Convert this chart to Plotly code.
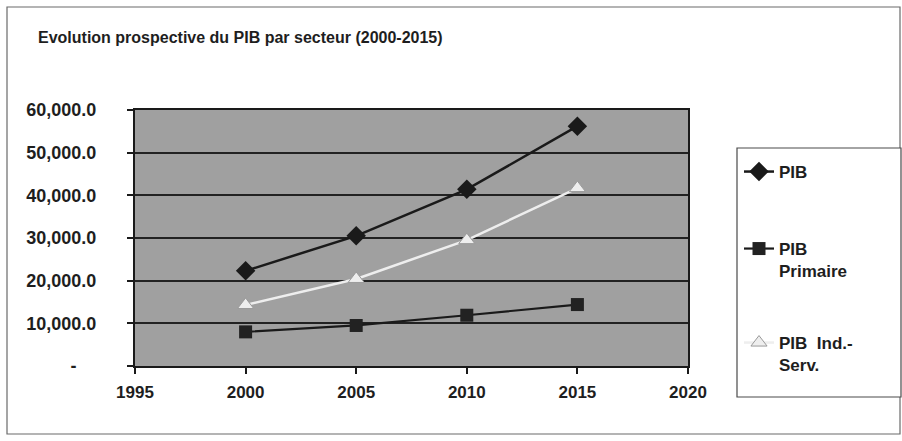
import plotly.graph_objects as go

# Years and GDP projections by sector
years = [2000, 2005, 2010, 2015]
pib_total = [22300, 30500, 41400, 56200]
pib_primaire = [8000, 9500, 11900, 14400]
pib_ind_serv = [14300, 20400, 29500, 41700]

series_names = ["PIB", "PIB<br>Primaire", "PIB  Ind.-<br>Serv."]

y_tickvals = [0, 10000, 20000, 30000, 40000, 50000, 60000]
y_ticktext = ["-\u00a0\u00a0\u00a0\u00a0", "10,000.0", "20,000.0", "30,000.0",
              "40,000.0", "50,000.0", "60,000.0"]
x_tickvals = [1995, 2000, 2005, 2010, 2015, 2020]

title_text = "Evolution prospective du PIB par secteur (2000-2015)"

# Page geometry (pixels)
W, H = 902, 441
M_L, M_R, M_T, M_B = 135, 214, 110, 75
PW = W - M_L - M_R
PH = H - M_T - M_B


def px_x(x):
    return (x - M_L) / PW


def px_y(y):
    return (H - M_B - y) / PH


FONT = "Liberation Sans, Arial, sans-serif"
INK = "#1e1e1e"

fig = go.Figure()

fig.add_trace(go.Scatter(
    x=years, y=pib_total, name=series_names[0], mode="lines+markers",
    line=dict(color="#1a1a1a", width=2.5),
    marker=dict(symbol="diamond", size=15, color="#1a1a1a"),
    legend="legend",
))
fig.add_trace(go.Scatter(
    x=years, y=pib_primaire, name=series_names[1], mode="lines+markers",
    line=dict(color="#1a1a1a", width=2.2),
    marker=dict(symbol="square", size=13, color="#222222"),
    legend="legend2",
))
fig.add_trace(go.Scatter(
    x=years, y=pib_ind_serv, name=series_names[2], mode="lines+markers",
    line=dict(color="#eeeeee", width=2.5),
    marker=dict(symbol="triangle-up", size=14, color="#eeeeee",
                line=dict(color="#9a9a9a", width=1)),
    legend="legend3",
))

legend_common = dict(
    bgcolor="rgba(0,0,0,0)", borderwidth=0,
    font=dict(family=FONT, size=17, color=INK, weight="bold"),
    xanchor="left", yanchor="top", valign="top",
    itemwidth=30,
)

fig.update_layout(
    width=W, height=H,
    margin=dict(l=M_L, r=M_R, t=M_T, b=M_B, autoexpand=False),
    paper_bgcolor="white",
    plot_bgcolor="#a0a0a0",
    font=dict(family=FONT, size=18, color=INK),
    title=dict(
        text=title_text, x=38 / W, xanchor="left",
        y=1 - 37 / H, yanchor="middle", xref="container",
        font=dict(family=FONT, size=16, color=INK, weight="bold"),
    ),
    xaxis=dict(
        range=[1995, 2020], tickvals=x_tickvals, showgrid=False, zeroline=False,
        showline=True, linecolor="#1a1a1a", linewidth=2, mirror=True,
        ticks="outside", ticklen=6, tickcolor="#1a1a1a", tickwidth=1.5,
        ticklabelstandoff=4,
        tickfont=dict(family=FONT, size=17, color=INK, weight="bold"),
    ),
    yaxis=dict(
        range=[0, 60000], tickvals=y_tickvals, ticktext=y_ticktext,
        showgrid=True, gridcolor="#222222", gridwidth=1.5, zeroline=False,
        showline=True, linecolor="#1a1a1a", linewidth=2, mirror=True,
        ticks="outside", ticklen=6, tickcolor="#1a1a1a", tickwidth=1.5,
        ticklabelstandoff=27,
        tickfont=dict(family=FONT, size=18, color=INK, weight="bold"),
    ),
    legend=dict(x=px_x(739), y=px_y(154), **legend_common),
    legend2=dict(x=px_x(739), y=px_y(231), **legend_common),
    legend3=dict(x=px_x(739), y=px_y(325), **legend_common),
    shapes=[
        # outer chart frame
        dict(type="rect", xref="paper", yref="paper",
             x0=px_x(7), x1=px_x(900), y0=px_y(434), y1=px_y(7),
             line=dict(color="#6a6a6a", width=1.2), fillcolor="rgba(0,0,0,0)",
             layer="below"),
        # legend frame
        dict(type="rect", xref="paper", yref="paper",
             x0=px_x(737), x1=px_x(901), y0=px_y(397), y1=px_y(148),
             line=dict(color="#4a4a4a", width=1.2), fillcolor="white",
             layer="below"),
    ],
    showlegend=True,
)

fig.write_html("out.html")
